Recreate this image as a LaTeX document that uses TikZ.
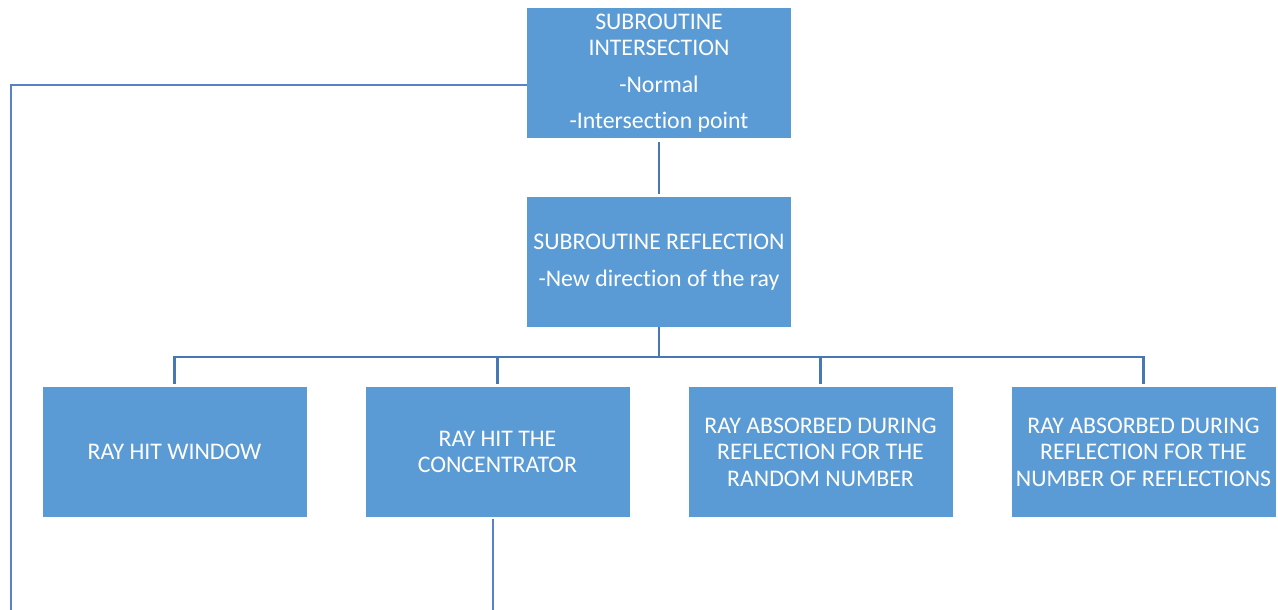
\documentclass[tikz,border=0pt]{standalone}
\usepackage{fontspec}
\setmainfont[Ligatures=NoCommon]{Carlito}
\definecolor{boxblue}{RGB}{91,155,213}
\definecolor{lineblue}{RGB}{70,120,180}
\definecolor{thinblue}{RGB}{88,130,200}
\begin{document}
\begin{tikzpicture}[x=1pt,y=-1pt,
  box/.style={rectangle,fill=boxblue,draw=none,minimum width=264pt,minimum height=130pt,
    inner sep=0pt,align=center,text=white,font=\fontsize{23.8}{26.5}\selectfont},
  conn/.style={draw=lineblue,line width=2.2pt},
  thin/.style={draw=thinblue,line width=1.4pt}]
\useasboundingbox (0,0) rectangle (1278,610);
\node[box] (inter) at (659,73) {SUBROUTINE\\INTERSECTION\\[10pt]-Normal\\[10pt]-Intersection point};
\node[box] (refl) at (659,262) {SUBROUTINE REFLECTION\\[11pt]-New direction of the ray};
\node[box] (win) at (174.5,452) {RAY HIT WINDOW};
\node[box] (conc) at (497.5,452) {RAY HIT THE\\CONCENTRATOR};
\node[box] (rand) at (820.5,452) {RAY ABSORBED DURING\\REFLECTION FOR THE\\RANDOM NUMBER};
\node[box] (numr) at (1143.5,452) {RAY ABSORBED DURING\\REFLECTION FOR THE\\NUMBER OF REFLECTIONS};
\coordinate (bus) at (659,357);
\coordinate (leftend) at (11,610);
\coordinate (concend) at (493,610);
\draw[conn,shorten <=4pt,shorten >=3pt] (inter.south) -- (refl.north);
\draw[conn] (refl.south) -- (bus);
\draw[conn,shorten >=3pt] (bus) -| (win.north);
\draw[conn,shorten >=3pt] (bus) -| (conc.north);
\draw[conn,shorten >=3pt] (bus) -| (rand.north);
\draw[conn,shorten >=3pt] (bus) -| (numr.north);
\draw[thin] ([yshift=-12pt]inter.west) -| (leftend);
\draw[thin,shorten <=2pt] ([xshift=-4.5pt]conc.south) -- (concend);
\end{tikzpicture}
\end{document}
